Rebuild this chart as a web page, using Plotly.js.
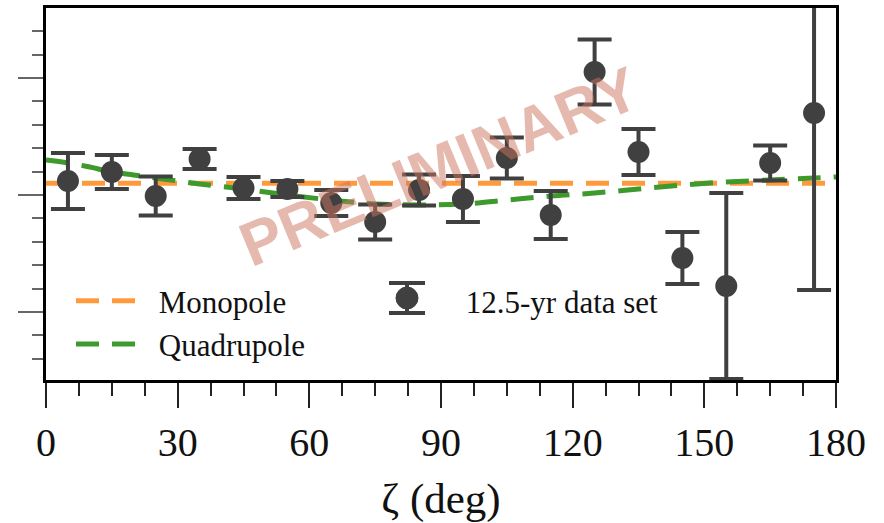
<!DOCTYPE html>
<html>
<head>
<meta charset="utf-8">
<script src="https://cdn.plot.ly/plotly-3.0.1.min.js"></script>
<style>html,body{margin:0;padding:0;background:#fff;}#chart{width:884px;height:523px;}</style>
</head>
<body>
<div id="chart"></div>
<script>
// Angular bins (deg) and binned cross-correlations (arbitrary units, unlabeled axis)
const zetaBins = [5, 15, 25, 35, 45, 55, 65, 75, 85, 95, 105, 115, 125, 135, 145, 155, 165, 175];
const corrValues = [0.120, 0.197, -0.009, 0.308, 0.060, 0.051, -0.068, -0.231, 0.043, -0.034, 0.316, -0.171, 1.051, 0.368, -0.538, -0.778, 0.274, 0.701];
const corrErrors = [0.239, 0.145, 0.167, 0.085, 0.094, 0.068, 0.111, 0.150, 0.132, 0.197, 0.175, 0.205, 0.278, 0.197, 0.222, 0.795, 0.150, 1.513];

// Model curves
const monoZeta = [0, 180];
const monoValues = [0.10, 0.10];
const quadZeta = [0, 5, 10, 15, 20, 25, 30, 35, 45, 55, 65, 75, 85, 95, 105, 115, 125, 135, 145, 155, 165, 175, 180];
const quadValues = [0.299, 0.274, 0.239, 0.197, 0.171, 0.145, 0.120, 0.094, 0.051, 0.0, -0.043, -0.077, -0.085, -0.077, -0.043, -0.009, 0.017, 0.051, 0.085, 0.111, 0.128, 0.145, 0.154];

const xTickVals = [0, 30, 60, 90, 120, 150, 180];
const xTickText = ['0', '30', '60', '90', '120', '150', '180'];

const serif = '"Liberation Serif", "Times New Roman", serif';
const ptColor = '#404040';

// plot-area geometry helpers (pixel -> paper) for legend decoration
const PL = 46, PW = 790, PB = 380, PH = 372;
const px = v => (v - PL) / PW;
const py = v => (PB - v) / PH;

const traces = [
  {
    x: monoZeta, y: monoValues, mode: 'lines', name: '\u00A0Monopole',
    line: {color: '#ff9a3c', width: 5, dash: '23px,13px'},
    legend: 'legend', hoverinfo: 'skip'
  },
  {
    x: quadZeta, y: quadValues, mode: 'lines', name: '\u00A0Quadrupole',
    line: {color: '#3f9a2e', width: 5, dash: '23px,13px', shape: 'spline'},
    legend: 'legend', hoverinfo: 'skip'
  },
  {
    x: zetaBins, y: corrValues, mode: 'markers', name: '\u00A0\u00A0\u00A0\u00A0\u00A012.5-yr data set',
    marker: {color: ptColor, size: 22},
    error_y: {type: 'data', array: corrErrors, visible: true, color: ptColor, thickness: 4, width: 17},
    legend: 'legend2', hoverinfo: 'skip'
  }
];

// legend key for the data set: circle with capped error bar (decoration only)
const keyX = 407, keyY = 298;
const legendKeyShapes = [
  {type: 'line', xref: 'paper', yref: 'paper', x0: px(keyX), x1: px(keyX), y0: py(keyY - 15), y1: py(keyY + 15), line: {color: ptColor, width: 4}},
  {type: 'line', xref: 'paper', yref: 'paper', x0: px(keyX - 18), x1: px(keyX + 18), y0: py(keyY - 15), y1: py(keyY - 15), line: {color: ptColor, width: 4}},
  {type: 'line', xref: 'paper', yref: 'paper', x0: px(keyX - 18), x1: px(keyX + 18), y0: py(keyY + 15), y1: py(keyY + 15), line: {color: ptColor, width: 4}},
  {type: 'circle', xref: 'paper', yref: 'paper', x0: px(keyX - 11), x1: px(keyX + 11), y0: py(keyY + 11), y1: py(keyY - 11), fillcolor: ptColor, line: {color: ptColor, width: 1}}
];

const layout = {
  width: 884, height: 523,
  margin: {l: 46, r: 48, t: 8, b: 143},
  paper_bgcolor: '#ffffff', plot_bgcolor: '#ffffff',
  showlegend: true,
  font: {family: serif, color: '#111'},
  xaxis: {
    range: [0, 180], tickvals: xTickVals, ticktext: xTickText,
    ticks: 'outside', ticklen: 25, tickwidth: 2, tickcolor: '#222',
    minor: {dtick: 7.5, ticks: 'outside', ticklen: 13, tickwidth: 2, tickcolor: '#222', showgrid: false},
    showline: true, linecolor: '#000', linewidth: 3, mirror: true,
    showgrid: false, zeroline: false,
    tickfont: {family: serif, size: 40, color: '#111'},
    ticklabelstandoff: 0,
    title: {text: 'ζ (deg)', font: {family: serif, size: 43, color: '#111'}, standoff: 19}
  },
  yaxis: {
    range: [-1.581, 1.598], dtick: 1, tick0: 0,
    ticks: 'outside', ticklen: 25, tickwidth: 2, tickcolor: '#666',
    minor: {dtick: 0.2, ticks: 'outside', ticklen: 11, tickwidth: 2, tickcolor: '#666', showgrid: false},
    showticklabels: false,
    showline: true, linecolor: '#000', linewidth: 3, mirror: true,
    showgrid: false, zeroline: false
  },
  legend: {
    x: px(71), y: py(274), xanchor: 'left', yanchor: 'top',
    bgcolor: 'rgba(0,0,0,0)', borderwidth: 0,
    font: {family: serif, size: 31, color: '#111'},
    itemwidth: 70, tracegroupgap: 0
  },
  legend2: {
    x: px(387), y: py(274), xanchor: 'left', yanchor: 'top',
    bgcolor: 'rgba(0,0,0,0)', borderwidth: 0,
    font: {family: serif, size: 31, color: '#111'},
    itemwidth: 30
  },
  shapes: legendKeyShapes,
  annotations: [{
    text: 'PRELIMINARY', xref: 'paper', yref: 'paper',
    x: px(439), y: py(167), xanchor: 'center', yanchor: 'middle',
    showarrow: false, textangle: -22.5,
    font: {family: '"Liberation Sans", Arial, sans-serif', size: 62, weight: 'bold', color: 'rgba(205,115,95,0.5)'}
  }]
};

Plotly.newPlot('chart', traces, layout, {displayModeBar: false, staticPlot: true});
</script>
</body>
</html>
